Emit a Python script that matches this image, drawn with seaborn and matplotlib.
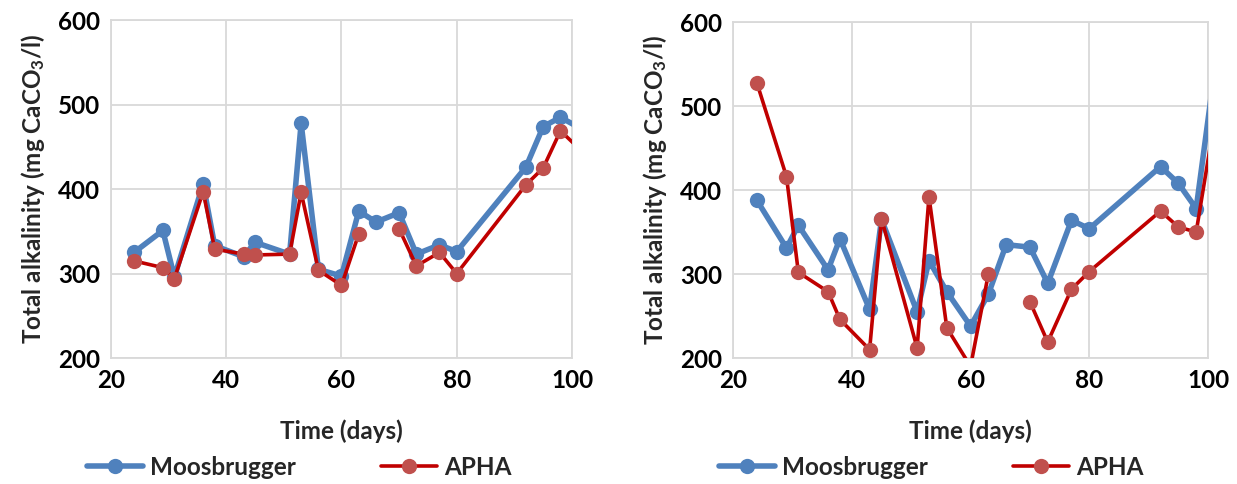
import numpy as np
import pandas as pd
import matplotlib
matplotlib.use('Agg')
import matplotlib.pyplot as plt
from matplotlib.lines import Line2D
import seaborn as sns

# Datos
days = [24, 29, 31, 36, 38, 43, 45, 51, 53, 56, 60, 63, 66, 70, 73, 77, 80, 92, 95, 98, 102]

moos_left = [325, 351, 296, 406, 333, 320, 337, 323, 478, 305, 297, 374, 361, 372, 323, 334, 326, 426, 474, 485, 470]
apha_left = [315, 307, 294, 397, 329, 323, 322, 323, 396, 304, 286, 347, np.nan, 353, 309, 325, 300, 405, 425, 469, 443]

moos_right = [388, 331, 358, 305, 342, 258, 365, 255, 316, 279, 238, 276, 335, 332, 289, 364, 354, 428, 408, 378, 590]
apha_right = [528, 416, 302, 279, 246, 210, 366, 212, 392, 236, 190, 300, np.nan, 267, 219, 282, 303, 375, 356, 350, 522]

methods = ['Moosbrugger', 'APHA']
x_ticks = [20, 40, 60, 80, 100]
y_ticks = [200, 300, 400, 500, 600]

BLUE = '#4F81BD'
RED_LINE = '#C00000'
RED_MARK = '#C0504D'
GRID = '#D9D9D9'
FS = 17.5

sns.set_theme(style='white')
plt.rcParams['font.family'] = ['Lato', 'DejaVu Sans']
plt.rcParams['font.weight'] = 'bold'
plt.rcParams['mathtext.fontset'] = 'custom'
plt.rcParams['mathtext.bf'] = 'Lato:bold'
plt.rcParams['mathtext.rm'] = 'Lato:bold'
plt.rcParams['mathtext.default'] = 'bf'


def long_df(values, name):
    # segmentos separados por huecos (NaN)
    df = pd.DataFrame({'day': days, 'value': values})
    df['seg'] = df['value'].isna().cumsum()
    df['method'] = name
    return df.dropna()


def draw(ax, moos, apha):
    d_m = long_df(moos, 'Moosbrugger')
    d_a = long_df(apha, 'APHA')
    sns.lineplot(data=d_m, x='day', y='value', units='seg', estimator=None, sort=False,
                 color=BLUE, lw=4.0, marker='o', markersize=11, markeredgewidth=0,
                 markerfacecolor=BLUE, ax=ax, legend=False, zorder=3)
    sns.lineplot(data=d_a, x='day', y='value', units='seg', estimator=None, sort=False,
                 color=RED_LINE, lw=2.6, marker='o', markersize=11, markeredgewidth=0,
                 markerfacecolor=RED_MARK, ax=ax, legend=False, zorder=4)
    ax.set_xlim(20, 100)
    ax.set_ylim(200, 600)
    ax.set_xticks(x_ticks)
    ax.set_yticks(y_ticks)
    ax.grid(True, color=GRID, lw=1.3)
    ax.set_axisbelow(True)
    for s in ax.spines.values():
        s.set_color(GRID)
        s.set_linewidth(1.3)
    ax.tick_params(axis='both', labelsize=FS, length=0, pad=8, colors='black')
    for lab in ax.get_xticklabels() + ax.get_yticklabels():
        lab.set_fontweight('bold')
    ax.set_xlabel('Time (days)', fontsize=FS, fontweight='bold', labelpad=20)
    ax.set_ylabel('Total alkalinity (mg CaCO$_3$/l)', fontsize=FS, fontweight='bold', labelpad=8)


fig = plt.figure(figsize=(12.37, 4.84), dpi=100)
ax1 = fig.add_axes([0.0897, 0.2603, 0.3727, 0.698])
ax2 = fig.add_axes([0.5926, 0.2603, 0.384, 0.694])

draw(ax1, moos_left, apha_left)
draw(ax2, moos_right, apha_right)

handles = [
    Line2D([], [], color=BLUE, lw=4.0, marker='o', markersize=11, markeredgewidth=0),
    Line2D([], [], color=RED_LINE, lw=2.6, marker='o', markersize=11, markeredgewidth=0,
           markerfacecolor=RED_MARK),
]
for cx in [0.242, 0.753]:
    fig.legend(handles, methods, loc='center', bbox_to_anchor=(cx, 0.035), ncol=2,
               frameon=False, handlelength=2.3, handletextpad=0.3,
               columnspacing=3.5, prop={'weight': 'bold', 'size': FS})

fig.savefig('out.png', dpi=100)
